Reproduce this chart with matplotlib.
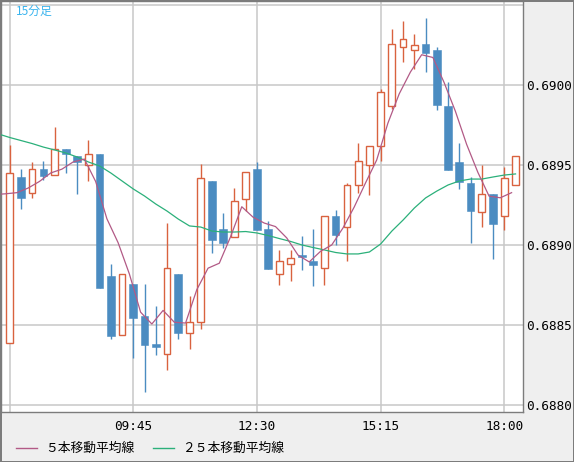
import matplotlib
matplotlib.use("Agg")
import matplotlib.pyplot as plt
from matplotlib.patches import Rectangle
from matplotlib.lines import Line2D

# ---------------- data (15-minute candles, 07:00 .. 18:15) ----------------
opens = [0.688389, 0.689427, 0.689327, 0.689477, 0.689439, 0.689602, 0.689558, 0.689502,
         0.689571, 0.688808, 0.688439, 0.688758, 0.688558, 0.688383, 0.688321, 0.688821,
         0.688452, 0.688521, 0.689402, 0.689102, 0.689052, 0.689289, 0.689477, 0.689102,
         0.688821, 0.688883, 0.688939, 0.688902, 0.688858, 0.689183, 0.689114, 0.689377,
         0.689502, 0.689621, 0.689871, 0.690239, 0.690221, 0.690258, 0.690221, 0.689871,
         0.689521, 0.689389, 0.689208, 0.689321, 0.689183, 0.689377]
highs = [0.689627, 0.689477, 0.689521, 0.689527, 0.689739, 0.689602, 0.689558, 0.689658,
         0.689571, 0.688883, 0.688821, 0.688758, 0.688758, 0.688621, 0.689139, 0.688821,
         0.688683, 0.689508, 0.689402, 0.689202, 0.689358, 0.689458, 0.689521, 0.689152,
         0.688971, 0.688971, 0.689058, 0.689102, 0.689183, 0.689221, 0.689389, 0.689639,
         0.689621, 0.689977, 0.690352, 0.690402, 0.690321, 0.690421, 0.690239, 0.690021,
         0.689639, 0.689427, 0.689502, 0.689321, 0.689489, 0.689558]
lows = [0.688389, 0.689227, 0.689296, 0.689408, 0.689439, 0.689452, 0.689321, 0.689402,
        0.688733, 0.688414, 0.688439, 0.688296, 0.688083, 0.688314, 0.688221, 0.688414,
        0.688352, 0.688477, 0.688952, 0.688983, 0.689052, 0.689214, 0.689096, 0.688852,
        0.688752, 0.688777, 0.688846, 0.688746, 0.688752, 0.689002, 0.688902, 0.689327,
        0.689314, 0.689527, 0.689852, 0.690146, 0.690102, 0.690083, 0.689846, 0.689471,
        0.689352, 0.689014, 0.689114, 0.688914, 0.689096, 0.689377]
closes = [0.689452, 0.689296, 0.689477, 0.689433, 0.689602, 0.689571, 0.689521, 0.689571,
          0.688733, 0.688433, 0.688821, 0.688546, 0.688377, 0.688364, 0.688858, 0.688452,
          0.688521, 0.689421, 0.689033, 0.689014, 0.689277, 0.689458, 0.689096, 0.688852,
          0.688902, 0.688921, 0.688927, 0.688877, 0.689183, 0.689064, 0.689377, 0.689527,
          0.689621, 0.689958, 0.690258, 0.690289, 0.690252, 0.690200, 0.689877, 0.689471,
          0.689396, 0.689214, 0.689321, 0.689133, 0.689421, 0.689558]

# moving averages (first value belongs to the candle before 07:00)
ma5 = [0.689317, 0.689322, 0.689329, 0.689358, 0.689399, 0.689452, 0.689476, 0.689521,
       0.689539, 0.689399, 0.689166, 0.689016, 0.688821, 0.688582, 0.688508, 0.688593,
       0.688519, 0.688514, 0.688723, 0.688857, 0.688888, 0.689053, 0.689241, 0.689176,
       0.689139, 0.689117, 0.689046, 0.688939, 0.688896, 0.688962, 0.689002, 0.689108,
       0.689239, 0.689389, 0.689533, 0.689764, 0.689946, 0.690083, 0.690191, 0.690174,
       0.690017, 0.689838, 0.689631, 0.689456, 0.689307, 0.689297, 0.689329]
ma25 = [0.689696, 0.689674, 0.689655, 0.689636, 0.689614, 0.689596, 0.689577, 0.689552,
        0.689521, 0.689496, 0.689452, 0.689402, 0.689352, 0.689308, 0.689258, 0.689214,
        0.689164, 0.689121, 0.689114, 0.689089, 0.689083, 0.689083, 0.689086, 0.689077,
        0.689061, 0.689042, 0.689024, 0.689002, 0.688986, 0.688971, 0.688955, 0.688946,
        0.688946, 0.688958, 0.689008, 0.689089, 0.689158, 0.689233, 0.689296, 0.689339,
        0.689377, 0.689402, 0.689414, 0.689414, 0.689427, 0.689439, 0.689446]

xtick_labels = ["09:45", "12:30", "15:15", "18:00"]
xtick_index = [11, 22, 33, 44]
ytick_values = [0.6880, 0.6885, 0.6890, 0.6895, 0.6900]
ytick_labels = ["0.6880", "0.6885", "0.6890", "0.6895", "0.6900"]
grid_y = [0.6880, 0.6885, 0.6890, 0.6895, 0.6900, 0.6905]
grid_x = [0, 11, 22, 33, 44]
title = "15分足"
legend_labels = ["５本移動平均線", "２５本移動平均線"]

# ---------------- style ----------------
UP = "#d9623f"
DOWN = "#4b8cc1"
MA5_C = "#b25a86"
MA25_C = "#2bb07a"
GRID = "#c8c8c8"
FRAME = "#7c7c7c"
BG = "#efefef"

W, H = 574, 462
fig = plt.figure(figsize=(W / 100, H / 100), dpi=100)
fig.patch.set_facecolor(BG)
fig.patch.set_edgecolor(FRAME)
fig.patch.set_linewidth(2.0)

ax = fig.add_axes([1 / W, 50 / H, 522 / W, 411 / H])
ax.set_facecolor("white")
ax.set_xlim(-0.7685, 45.665)
ax.set_ylim(0.687958, 0.690527)

for gy in grid_y:
    ax.axhline(gy, color=GRID, lw=1.1, zorder=0)
for gx in grid_x:
    ax.axvline(gx, color=GRID, lw=1.1, zorder=0)

bw = 0.68
for i, (o, h, l, c) in enumerate(zip(opens, highs, lows, closes)):
    up = c >= o
    col = UP if up else DOWN
    ax.vlines(i, l, h, color=col, lw=1.0, zorder=2)
    lo, hi = min(o, c), max(o, c)
    if up:
        ax.add_patch(Rectangle((i - bw / 2 + 0.04, lo), bw - 0.08, hi - lo,
                               facecolor="white", edgecolor=col, lw=1.0, zorder=3))
    else:
        ax.add_patch(Rectangle((i - bw / 2, lo), bw, hi - lo,
                               facecolor=col, edgecolor=col, lw=0.4, zorder=3))

x_ma5 = [k - 1 - 0.35 for k in range(len(ma5))]
x_ma25 = [k - 1 for k in range(len(ma25))]
ax.plot(x_ma25, ma25, color=MA25_C, lw=0.9, zorder=4)
ax.plot(x_ma5, ma5, color=MA5_C, lw=0.9, zorder=5)

ax.yaxis.tick_right()
ax.set_yticks(ytick_values)
ax.set_yticklabels(ytick_labels, family="DejaVu Sans Mono", fontsize=9.2)
ax.set_xticks(xtick_index)
ax.set_xticklabels(xtick_labels, family="DejaVu Sans Mono", fontsize=9.2)
ax.tick_params(axis="both", length=0)
ax.tick_params(axis="y", pad=2.5)
ax.tick_params(axis="x", pad=5.5)
for s in ax.spines.values():
    s.set_color(FRAME)
    s.set_linewidth(1.0)

ax.text(15 / 522, 1 - 10.5 / 411, title, transform=ax.transAxes,
        family=["Noto Sans CJK JP", "DejaVu Sans"], fontsize=8.5, color="#3ab4ee",
        va="center", ha="left", zorder=6)

# legend (drawn in figure pixels)
ly = 1 - 448 / H
fig.add_artist(Line2D([16 / W, 37 / W], [ly, ly], color=MA5_C, lw=1.0))
fig.text(45 / W, ly, legend_labels[0], family=["Noto Sans CJK JP", "DejaVu Sans"],
         fontsize=9.2, va="center", ha="left")
fig.add_artist(Line2D([153 / W, 174 / W], [ly, ly], color=MA25_C, lw=1.0))
fig.text(182 / W, ly, legend_labels[1], family=["Noto Sans CJK JP", "DejaVu Sans"],
         fontsize=9.2, va="center", ha="left")

fig.savefig("out.png", dpi=100, facecolor=BG, edgecolor=FRAME)
